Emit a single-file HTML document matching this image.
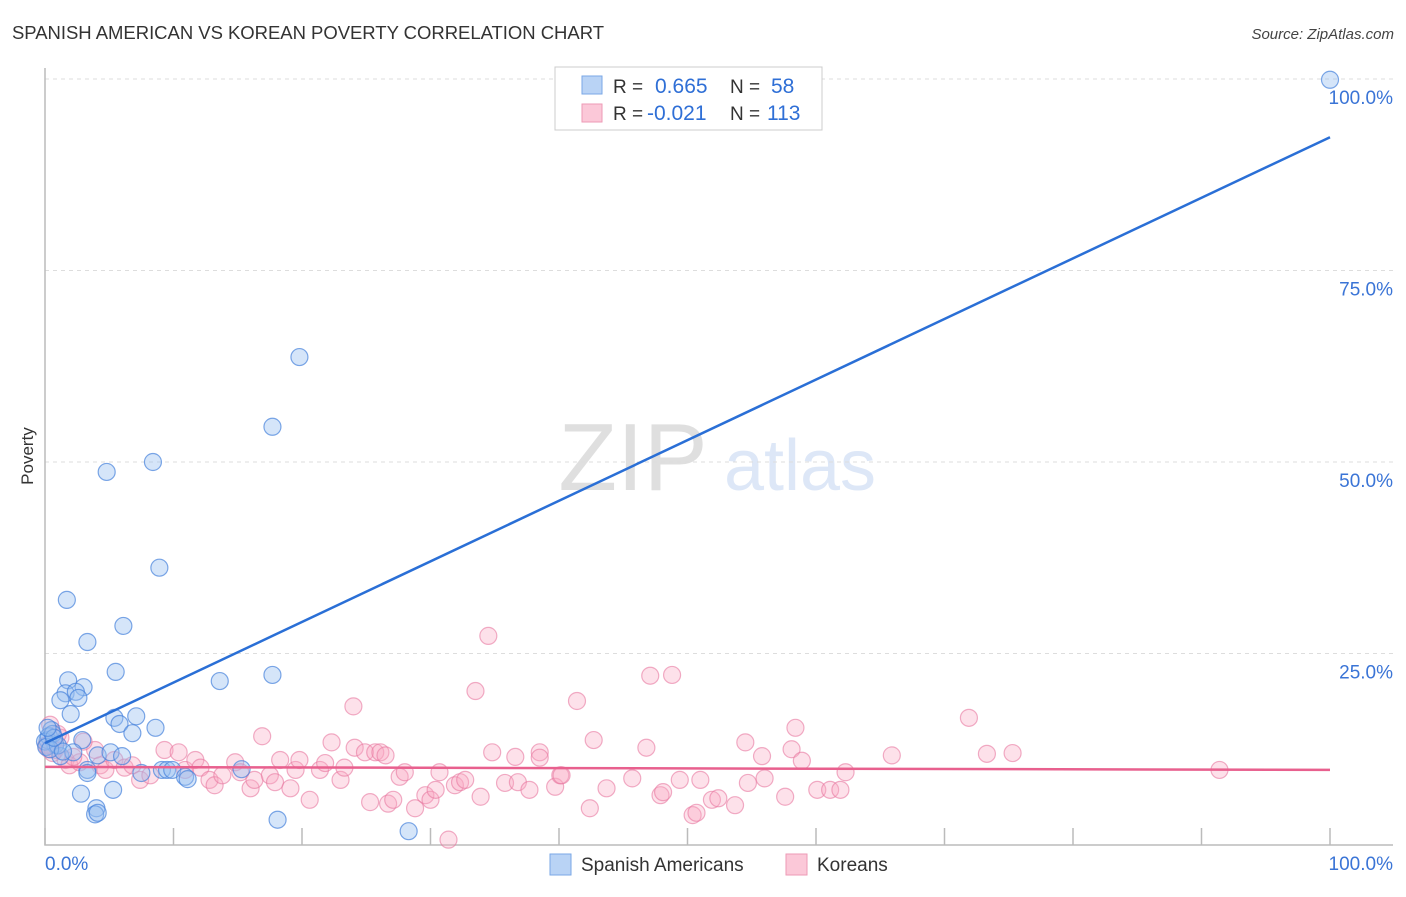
<!DOCTYPE html>
<html><head><meta charset="utf-8"><style>
body{margin:0;background:#fff;font-family:"Liberation Sans",sans-serif;}
svg text{font-family:"Liberation Sans",sans-serif;}
</style></head><body>
<svg id="chart" width="1406" height="892" viewBox="0 0 1406 892" xmlns="http://www.w3.org/2000/svg">
<text x="12" y="39" font-size="18.5" fill="#333" textLength="592">SPANISH AMERICAN VS KOREAN POVERTY CORRELATION CHART</text>
<text x="1394" y="39" font-size="15" fill="#444" font-style="italic" text-anchor="end">Source: ZipAtlas.com</text>
<text x="33" y="456" font-size="17" fill="#333" text-anchor="middle" transform="rotate(-90 33 456)">Poverty</text>
<g opacity="0.18">
<text x="633" y="490" font-size="96" font-family="Liberation Serif" fill="#555" text-anchor="middle">ZIP</text>
<text x="800" y="490" font-size="72" fill="#4a7fd4" text-anchor="middle">atlas</text>
</g>
<g id="grid"></g><g id="axes"></g><g id="pts"></g><g id="lines"></g>
<g>
<rect x="555" y="67" width="267" height="63" fill="#fff" stroke="#ccc"/>
<rect x="582" y="76" width="20" height="18" fill="#b9d3f5" stroke="#7aa7e6"/>
<rect x="582" y="104" width="20" height="18" fill="#fbc8d8" stroke="#ee9ab6"/>
<text x="613" y="93" font-size="19" fill="#333">R = </text><text x="655" y="93" font-size="21" fill="#2f6fd6">0.665</text>
<text x="730" y="93" font-size="19" fill="#333">N = </text><text x="771" y="93" font-size="21" fill="#2f6fd6">58</text>
<text x="613" y="120" font-size="19" fill="#333">R = </text><text x="647" y="120" font-size="21" fill="#2f6fd6">-0.021</text>
<text x="730" y="120" font-size="19" fill="#333">N = </text><text x="767" y="120" font-size="21" fill="#2f6fd6">113</text>
</g>
<g>
<rect x="550" y="854" width="21" height="21" fill="#b9d3f5" stroke="#7aa7e6"/>
<text x="581" y="871" font-size="19" fill="#333">Spanish Americans</text>
<rect x="786" y="854" width="21" height="21" fill="#fbc8d8" stroke="#ee9ab6"/>
<text x="817" y="871" font-size="19" fill="#333">Koreans</text>
</g>
</svg>
<script>
const yTicks=[25,50,75,100];
const yTickLabels=["25.0%","50.0%","75.0%","100.0%"];
const xTicks=[0,10,20,30,40,50,60,70,80,90,100];
const blueX=[100,19.8,17.7,4.8,8.4,8.9,1.7,6.1,3.3,5.5,13.6,17.7,1.8,3.0,1.6,2.4,2.6,1.2,2.0,5.4,7.1,5.8,8.6,6.8,0.5,0.2,0.8,2.9,1.2,2.2,4.1,5.1,6.0,3.3,3.3,7.5,9.1,9.5,9.9,10.9,11.1,15.3,2.8,5.3,4.0,3.9,4.1,18.1,28.3,0.3,0,0.1,0.6,1.0,0.4,1.4,0.7,0.2];
const blueY=[99.9,63.7,54.6,48.7,50.0,36.2,32.0,28.6,26.5,22.6,21.4,22.2,21.5,20.6,19.8,20.0,19.2,18.9,17.1,16.6,16.8,15.8,15.3,14.6,15.0,13.7,13.1,13.7,11.6,12.1,11.7,12.1,11.6,9.8,9.4,9.4,9.8,9.8,9.8,8.9,8.6,9.9,6.7,7.2,4.8,4.0,4.2,3.3,1.8,14.2,13.5,12.8,14.5,13.0,12.5,12.2,14.0,15.3];
const pinkX=[0.4,0.2,0.8,1.2,1.6,1.9,2.7,3.9,4.3,4.7,5.4,6.2,6.8,7.4,8.2,9.3,10.4,10.9,11.7,12.1,12.8,13.2,13.8,14.8,15.2,16.0,16.3,16.9,17.5,18.3,17.9,19.1,19.5,19.8,20.6,21.4,21.8,22.3,23.0,23.3,24.0,24.1,24.9,25.3,25.7,26.1,26.5,26.7,27.1,27.6,28.0,28.8,29.6,30.0,30.4,30.7,31.4,31.9,32.3,32.7,33.9,33.5,34.5,34.8,35.8,36.6,36.8,37.7,38.5,38.5,39.7,40.1,40.2,41.4,42.4,42.7,43.7,45.7,46.8,47.1,47.9,48.1,48.8,49.4,50.4,50.7,51.0,51.9,52.4,53.7,54.5,54.7,55.8,56.0,57.6,58.1,58.4,58.9,60.1,61.1,61.9,62.3,65.9,71.9,73.3,75.3,91.4,0.1,0.6,1.0,2.2,3.0,0.3];
const pinkY=[15.7,13.1,12.4,14.0,11.1,10.4,10.8,12.4,10.4,9.8,11.1,10.1,10.4,8.5,9.1,12.4,12.1,9.8,11.1,10.1,8.5,7.8,9.1,10.8,9.5,7.4,8.5,14.2,9.1,11.1,8.2,7.4,9.8,11.1,5.9,9.8,10.7,13.4,8.5,10.1,18.1,12.7,12.1,5.6,12.1,12.1,11.7,5.4,5.9,8.9,9.5,4.8,6.5,5.9,7.2,9.5,0.7,7.8,8.2,8.5,6.3,20.1,27.3,12.1,8.1,11.5,8.2,7.2,12.1,11.4,7.6,9.1,9.1,18.8,4.8,13.7,7.4,8.7,12.7,22.1,6.5,6.9,22.2,8.5,3.9,4.2,8.5,5.9,6.1,5.2,13.4,8.1,11.6,8.7,6.3,12.5,15.3,11.0,7.2,7.2,7.2,9.5,11.7,16.6,11.9,12.0,9.8,13.0,12.0,14.5,11.5,13.5,12.5];
const blueFit=[13.3,92.4];
const pinkFit=[10.2,9.8];
const X=v=>45+v*12.85, Y=v=>845-v*7.66;
const NS="http://www.w3.org/2000/svg";
function mk(p,t,a){const e=document.createElementNS(NS,t);for(const k in a)e.setAttribute(k,a[k]);document.getElementById(p).appendChild(e);return e;}
yTicks.forEach((t,i)=>{
 const g=mk('grid','line',{x1:45,x2:1393,y1:Y(t),y2:Y(t),stroke:'#ddd','stroke-dasharray':'4 4'});
 
 
 const l=mk('grid','text',{x:1393,y:Y(t)+25,'font-size':19,fill:'#3a74d6','text-anchor':'end'});
 l.textContent=yTickLabels[i];
 
 
});
const ax=mk('axes','path',{d:'M45 68V845H1393',fill:'none',stroke:'#bbb','stroke-width':1.5});


xTicks.forEach(t=>{
 const k=mk('axes','line',{x1:X(t),x2:X(t),y1:828,y2:845,stroke:'#bbb','stroke-width':1.5});
 
 
});
const x0=mk('axes','text',{x:45,y:870,'font-size':19,fill:'#3a74d6'});x0.textContent='0.0%';


const x1=mk('axes','text',{x:1393,y:870,'font-size':19,fill:'#3a74d6','text-anchor':'end'});x1.textContent='100.0%';


pinkX.forEach((v,i)=>{
 const c=mk('pts','circle',{cx:X(v),cy:Y(pinkY[i]),r:8.5,fill:'rgba(248,170,195,0.35)',stroke:'rgba(232,120,160,0.6)','stroke-width':1.2});
 
 
});
blueX.forEach((v,i)=>{
 const c=mk('pts','circle',{cx:X(v),cy:Y(blueY[i]),r:8.5,fill:'rgba(150,190,240,0.4)',stroke:'rgba(70,130,220,0.7)','stroke-width':1.2});
 
 
});
const bl=mk('lines','line',{x1:X(0),x2:X(100),y1:Y(blueFit[0]),y2:Y(blueFit[1]),stroke:'#2a6fd6','stroke-width':2.5});


const pl=mk('lines','line',{x1:X(0),x2:X(100),y1:Y(pinkFit[0]),y2:Y(pinkFit[1]),stroke:'#e8608e','stroke-width':2.5});


</script>
</body></html>
